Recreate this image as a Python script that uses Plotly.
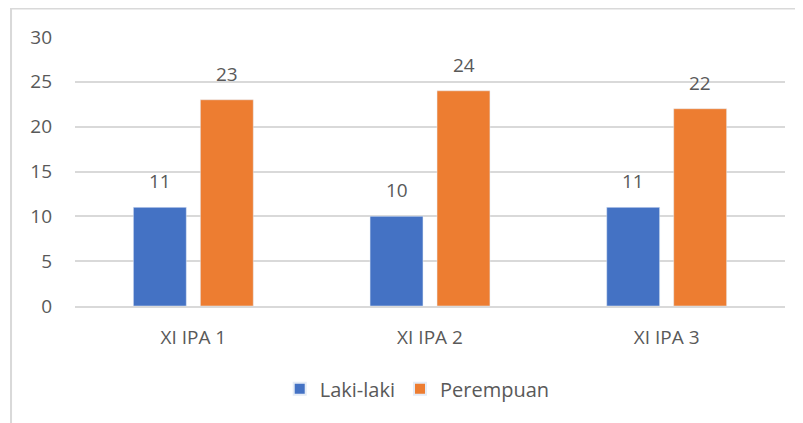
import plotly.graph_objects as go

categories = ["XI IPA 1", "XI IPA 2", "XI IPA 3"]
laki_laki = [11, 10, 11]
perempuan = [23, 24, 22]
y_ticks = [0, 5, 10, 15, 20, 25, 30]

blue = "#4472C4"
orange = "#ED7D31"
text_color = "#595959"
grid_color = "#D9D9D9"
font_family = "Open Sans"

fig = go.Figure()
fig.add_trace(go.Bar(x=categories, y=laki_laki, name="Laki-laki", marker_color=blue))
fig.add_trace(go.Bar(x=categories, y=perempuan, name="Perempuan", marker_color=orange))

# value labels above bars (Excel style, with a gap)
for series, shift in [(laki_laki, -33.5), (perempuan, 33.5)]:
    for cat, val in zip(categories, series):
        fig.add_annotation(
            x=cat, y=val, text=str(val), showarrow=False,
            xshift=shift, yshift=26,
            font=dict(family=font_family, size=19, color=text_color)
        )

# chart border
fig.add_shape(
    type="rect", xref="paper", yref="paper",
    x0=-0.0901, x1=1.2, y0=-0.6, y1=1.106,
    line=dict(color=grid_color, width=2)
)

# page body has an 8px margin, so the figure is shrunk by 8px
fig.update_layout(
    width=795, height=415,
    margin=dict(l=67, r=18, t=29, b=117),
    paper_bgcolor="white", plot_bgcolor="white",
    barmode="group", bargap=0.434, bargroupgap=0.21,
    font=dict(family=font_family, size=19, color=text_color),
    showlegend=True,
    legend=dict(
        orientation="h", x=0.482, xanchor="center", y=-0.308, yanchor="middle",
        font=dict(family=font_family, size=20, color=text_color),
        itemsizing="constant", traceorder="normal"
    )
)
fig.update_xaxes(
    showgrid=False, showline=True, linecolor=grid_color, linewidth=1.5,
    ticks="", ticklabelstandoff=13,
    tickfont=dict(family=font_family, size=19, color=text_color)
)
fig.update_yaxes(
    range=[0, 30], tickvals=y_ticks, showgrid=True, gridcolor=grid_color, gridwidth=1.5,
    zeroline=False, showline=False, ticks="", ticklabelstandoff=22,
    tickfont=dict(family=font_family, size=19, color=text_color)
)

fig.write_html("out.html")
